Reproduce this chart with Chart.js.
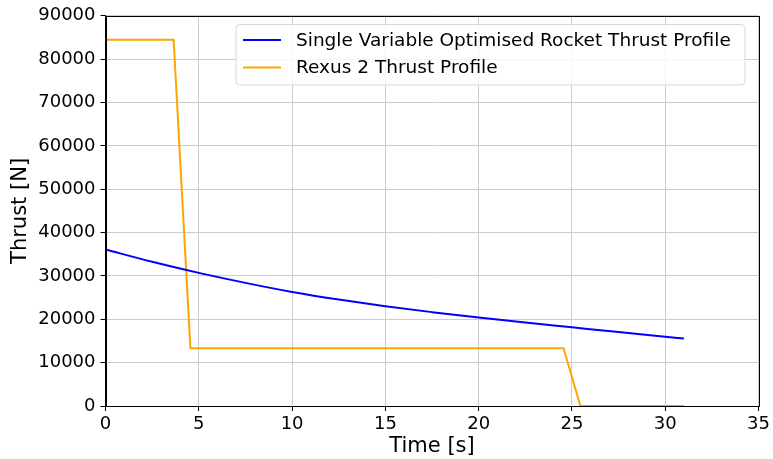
<!DOCTYPE html>
<html>
<head>
<meta charset="utf-8">
<script src="https://cdn.jsdelivr.net/npm/chart.js@4"></script>
<style>
  html, body { margin: 0; padding: 0; background: #ffffff; }
  #wrap { width: 773px; height: 459px; }
</style>
</head>
<body>
<div id="wrap"><canvas id="thrust" width="773" height="459"></canvas></div>
<script>
// Optimised single-variable thrust curve, time [s] and thrust [N]
const optimisedTime   = [0, 2.5, 5, 7.5, 10, 12.5, 15, 17.5, 20, 22.5, 25, 27.5, 30, 31];
const optimisedThrust = [36100, 33250, 30700, 28400, 26300, 24550, 23000, 21650, 20400, 19250, 18150, 17050, 16000, 15550];

// Rexus 2 motor: boost phase, sustain phase, burnout
const rexusTime   = [0, 3.65, 4.55, 24.55, 25.45, 31];
const rexusThrust = [84500, 84500, 13300, 13300, 0, 0];

// Axis ticks
const xTicks = [0, 5, 10, 15, 20, 25, 30, 35];
const yTicks = [0, 10000, 20000, 30000, 40000, 50000, 60000, 70000, 80000, 90000];

const seriesLabels = ['Single Variable Optimised Rocket Thrust Profile', 'Rexus 2 Thrust Profile'];

const toPoints = (xs, ys) => xs.map((x, i) => ({ x: x, y: ys[i] }));

const FONT = "'DejaVu Sans', 'Liberation Sans', sans-serif";

// Full black frame round the plot area
const frame = {
  id: 'frame',
  afterDatasetsDraw(chart) {
    const { ctx, chartArea: a } = chart;
    ctx.save();
    ctx.strokeStyle = '#000000';
    ctx.lineWidth = 1;
    ctx.strokeRect(Math.round(a.left) + 0.5, Math.round(a.top) + 0.5,
                   Math.round(a.right - a.left), Math.round(a.bottom - a.top));
    ctx.restore();
  }
};

// Legend box drawn inside the top-right of the plot area
const innerLegend = {
  id: 'innerLegend',
  afterDraw(chart) {
    const { ctx } = chart;
    const x0 = 236, y0 = 24.5, w = 509, h = 60.5, r = 4;
    ctx.save();
    ctx.beginPath();
    ctx.moveTo(x0 + r, y0);
    ctx.lineTo(x0 + w - r, y0);
    ctx.quadraticCurveTo(x0 + w, y0, x0 + w, y0 + r);
    ctx.lineTo(x0 + w, y0 + h - r);
    ctx.quadraticCurveTo(x0 + w, y0 + h, x0 + w - r, y0 + h);
    ctx.lineTo(x0 + r, y0 + h);
    ctx.quadraticCurveTo(x0, y0 + h, x0, y0 + h - r);
    ctx.lineTo(x0, y0 + r);
    ctx.quadraticCurveTo(x0, y0, x0 + r, y0);
    ctx.closePath();
    ctx.fillStyle = 'rgba(255,255,255,0.8)';
    ctx.fill();
    ctx.strokeStyle = '#d9d9d9';
    ctx.lineWidth = 1;
    ctx.stroke();
    ctx.font = '18.5px ' + FONT;
    ctx.textBaseline = 'middle';
    ctx.fillStyle = '#000000';
    chart.data.datasets.forEach((ds, i) => {
      const ly = 40 + i * 27.5;
      ctx.beginPath();
      ctx.moveTo(243, ly);
      ctx.lineTo(281, ly);
      ctx.strokeStyle = ds.borderColor;
      ctx.lineWidth = 2;
      ctx.stroke();
      ctx.fillText(ds.label, 296, ly + 1);
    });
    ctx.restore();
  }
};

new Chart(document.getElementById('thrust'), {
  type: 'line',
  data: {
    datasets: [
      {
        label: seriesLabels[0],
        data: toPoints(optimisedTime, optimisedThrust),
        borderColor: '#0000ff',
        borderWidth: 2,
        pointRadius: 0,
        cubicInterpolationMode: 'monotone',
        fill: false
      },
      {
        label: seriesLabels[1],
        data: toPoints(rexusTime, rexusThrust),
        borderColor: '#ffa500',
        borderWidth: 2,
        pointRadius: 0,
        tension: 0,
        fill: false
      }
    ]
  },
  options: {
    responsive: false,
    animation: false,
    layout: { padding: { top: 15, right: 10, left: 0, bottom: 0 } },
    plugins: {
      legend: { display: false },
      tooltip: { enabled: false }
    },
    scales: {
      x: {
        type: 'linear',
        min: 0,
        max: 35,
        afterBuildTicks(axis) { axis.ticks = xTicks.map(v => ({ value: v })); },
        afterFit(axis) { axis.height = 53; },
        ticks: {
          color: '#000000',
          font: { family: FONT, size: 18 },
          padding: 3,
          maxRotation: 0,
          callback: v => String(v)
        },
        grid: { color: '#cccccc', lineWidth: 1, tickLength: 5, tickColor: '#000000' },
        border: { display: true, color: '#000000', width: 1 },
        title: {
          display: true,
          text: 'Time [s]',
          color: '#000000',
          font: { family: FONT, size: 21 },
          padding: { top: 0, bottom: 0 }
        }
      },
      y: {
        type: 'linear',
        min: 0,
        max: 90000,
        afterBuildTicks(axis) { axis.ticks = yTicks.map(v => ({ value: v })); },
        afterFit(axis) { axis.width = 105.5; },
        ticks: {
          color: '#000000',
          font: { family: FONT, size: 18 },
          padding: 5,
          callback: v => String(v)
        },
        grid: { color: '#cccccc', lineWidth: 1, tickLength: 5, tickColor: '#000000' },
        border: { display: true, color: '#000000', width: 1 },
        title: {
          display: true,
          text: 'Thrust [N]',
          color: '#000000',
          font: { family: FONT, size: 21 },
          padding: { top: 8, bottom: 0 }
        }
      }
    }
  },
  plugins: [frame, innerLegend]
});
</script>
</body>
</html>
